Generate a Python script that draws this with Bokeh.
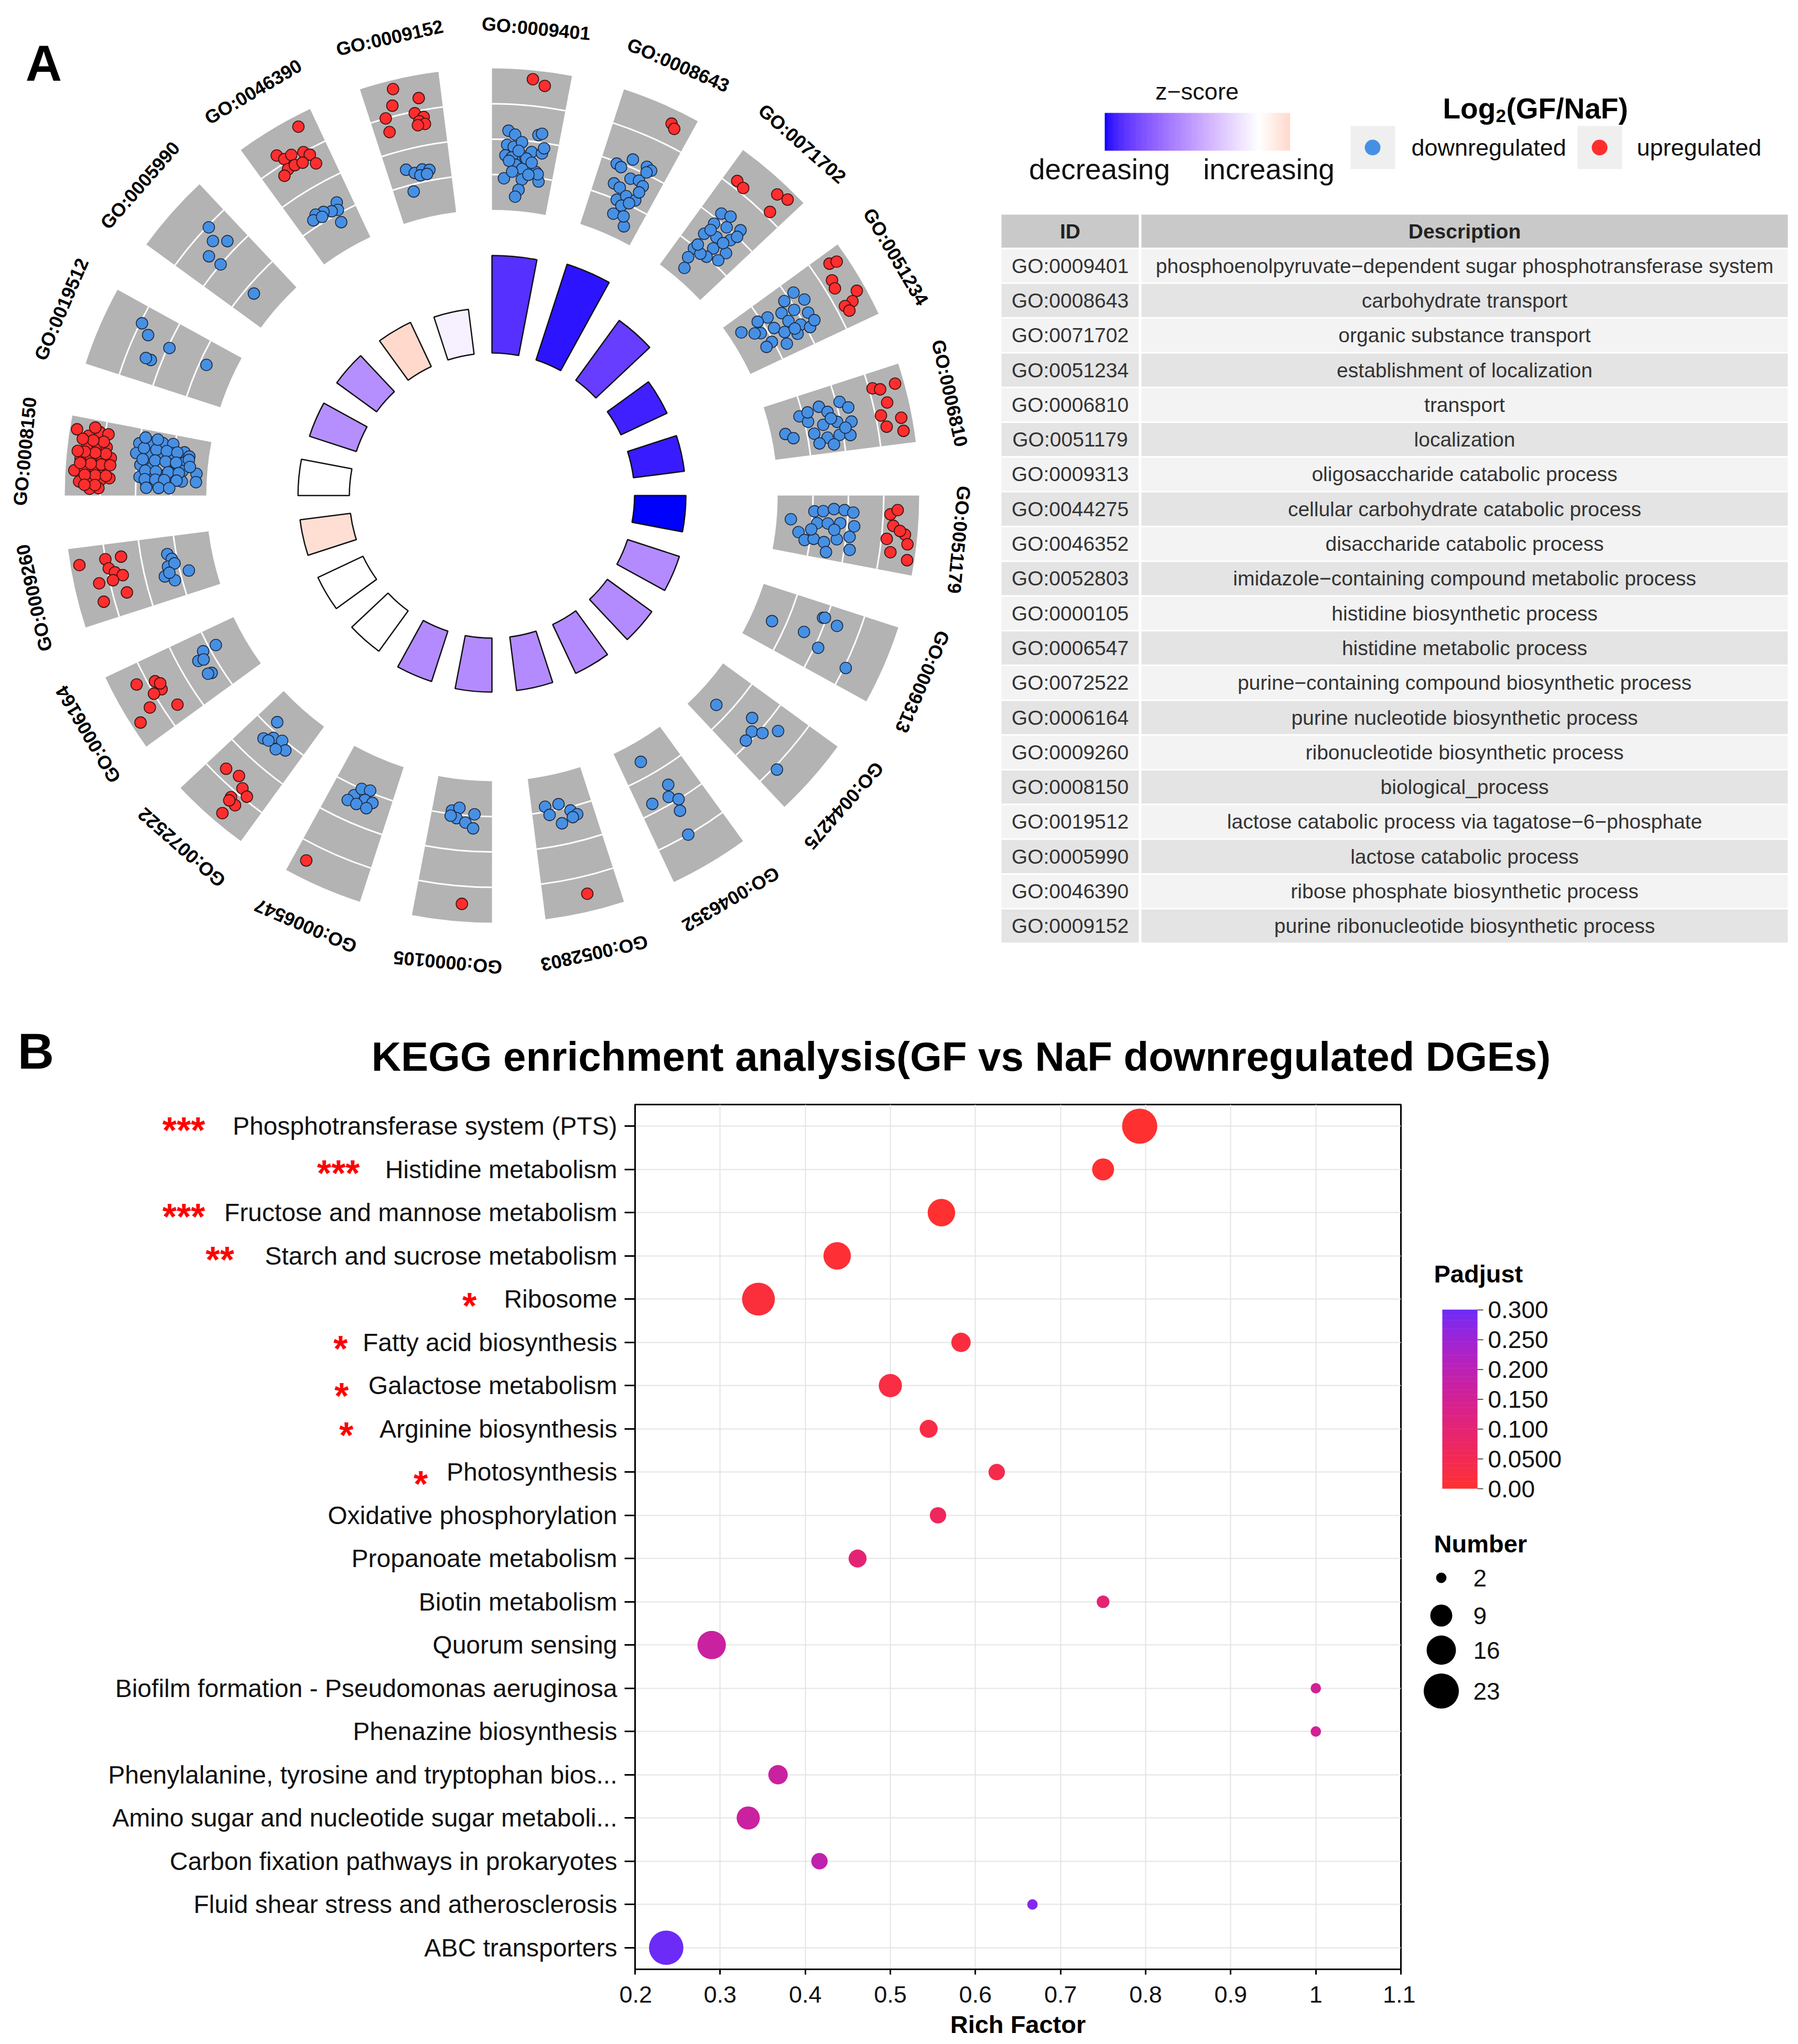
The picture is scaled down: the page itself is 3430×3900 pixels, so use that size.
import math
from bokeh.plotting import figure
from bokeh.models import Range1d, FixedTicker
from bokeh.layouts import column, row
from bokeh.embed import file_html
from bokeh.resources import INLINE
from bokeh.core.properties import value

FONT = "Liberation Sans"

# ------------------------------------------------------------------ Panel A data
GO_IDS = ["GO:0009401", "GO:0008643", "GO:0071702", "GO:0051234", "GO:0006810",
          "GO:0051179", "GO:0009313", "GO:0044275", "GO:0046352", "GO:0052803",
          "GO:0000105", "GO:0006547", "GO:0072522", "GO:0006164", "GO:0009260",
          "GO:0008150", "GO:0019512", "GO:0005990", "GO:0046390", "GO:0009152"]
GO_DESCRIPTIONS = [
    "phosphoenolpyruvate\u2212dependent sugar phosphotransferase system",
    "carbohydrate transport", "organic substance transport",
    "establishment of localization", "transport", "localization",
    "oligosaccharide catabolic process", "cellular carbohydrate catabolic process",
    "disaccharide catabolic process",
    "imidazole\u2212containing compound metabolic process",
    "histidine biosynthetic process", "histidine metabolic process",
    "purine\u2212containing compound biosynthetic process",
    "purine nucleotide biosynthetic process", "ribonucleotide biosynthetic process",
    "biological_process",
    "lactose catabolic process via tagatose\u22126\u2212phosphate",
    "lactose catabolic process", "ribose phosphate biosynthetic process",
    "purine ribonucleotide biosynthetic process"]
BAR_NEG_LOG10_PADJ = [9.3, 9.6, 7.05, 4.85, 4.9, 4.9, 5.2, 5.25, 5.15, 5.15,
                      5.15, 5.05, 4.75, 4.75, 4.85, 4.9, 4.7, 4.7, 4.65, 4.3]
GO_ZSCORE = [-5.3, -5.8, -5.0, -5.6, -5.7, -6.0, -3.0, -3.0, -3.0, -3.0,
             -3.0, -3.0, 0.0, 0.0, 1.0, 0.0, -2.9, -2.9, 1.2, -0.35]

# genes per term: (position across the sector 0..1, log2 fold change)
DN_0009401 = [(.24, -0.5), (.34, -0.7), (.68, -0.6), (.73, -0.5), (.23, -1.3), (.33, -1.4), (.45, -1.1),
              (.44, -1.9), (.21, -1.9), (.31, -2.0), (.52, -1.9), (.61, -1.6), (.77, -1.6), (.59, -2.4),
              (.38, -2.4), (.27, -2.2), (.49, -2.6), (.72, -2.7), (.78, -3.2), (.75, -2.8), (.20, -3.2),
              (.50, -3.2), (.46, -3.8), (.41, -4.2), (.54, -2.0), (.63, -2.2), (.41, -1.6), (.33, -2.8),
              (.60, -2.9), (.79, -1.3)]
UP_0009401 = [(.52, 2.5), (.68, 2.2)]
DN_0008643 = [(.24, -1.1), (.32, -1.2), (.44, -0.55), (.67, -0.6), (.75, -0.7), (.31, -2.2), (.42, -2.3),
              (.52, -1.6), (.65, -1.5), (.45, -3.0), (.57, -2.6), (.73, -2.6), (.74, -1.7), (.49, -3.8),
              (.56, -3.2), (.66, -2.9), (.75, -4.2), (.67, -3.7), (.70, -0.9), (.73, -2.1)]
UP_0008643 = [(.72, 2.2), (.78, 2.0)]
DN_0071702 = [(.29, -0.6), (.42, -0.4), (.30, -1.3), (.48, -1.0), (.66, -0.6), (.28, -2.1), (.46, -1.8),
              (.65, -1.4), (.54, -2.4), (.74, -2.1), (.73, -2.7), (.55, -3.0), (.30, -3.1), (.32, -3.7),
              (.39, -4.3), (.69, -1.0), (.32, -1.7), (.60, -1.8), (.44, -3.1), (.31, -2.8)]
UP_0071702 = [(.18, 1.4), (.30, 1.3), (.69, 2.3), (.83, 2.5), (.78, 1.3)]
DN_0051234 = [(.19, -0.6), (.36, -0.3), (.22, -1.3), (.55, -0.5), (.41, -1.1), (.35, -1.8), (.29, -2.6),
              (.26, -3.2), (.51, -1.7), (.65, -1.2), (.75, -0.8), (.49, -2.6), (.45, -3.4), (.63, -2.2),
              (.75, -1.6), (.67, -3.1), (.81, -2.4), (.70, -3.5), (.26, -4.3), (.40, -3.7), (.66, -1.6),
              (.69, -0.4)]
UP_0051234 = [(.14, 2.0), (.17, 2.4), (.34, 1.6), (.45, 1.5), (.62, 2.5), (.71, 2.0), (.72, 1.5), (.80, 1.6)]
DN_0006810 = [(.57, -4.2), (.67, -3.8), (.33, -3.2), (.45, -2.8), (.26, -2.0), (.37, -1.6), (.27, -0.8),
              (.38, -0.4), (.59, -0.4), (.55, -1.2), (.55, -2.0), (.66, -2.6), (.76, -1.9), (.75, -1.2),
              (.78, -0.6), (.88, -1.6), (.83, -2.4), (.30, -2.7), (.48, -1.5), (.66, -0.8)]
UP_0006810 = [(.21, 1.2), (.25, 1.6), (.23, 2.5), (.44, 1.8), (.59, 1.3), (.75, 1.5), (.67, 2.4), (.84, 2.4)]
DN_0051179 = [(.42, -4.2), (.63, -3.7), (.75, -3.3), (.26, -2.9), (.25, -2.4), (.21, -1.8), (.22, -1.2),
              (.25, -0.7), (.45, -2.7), (.44, -2.1), (.42, -1.4), (.45, -0.6), (.71, -2.8), (.74, -2.2),
              (.67, -1.5), (.61, -0.8), (.80, -0.7), (.89, -2.0), (.53, -1.7), (.56, -3.0)]
UP_0051179 = [(.25, 1.4), (.19, 1.8), (.40, 1.6), (.50, 2.3), (.58, 1.3), (.62, 2.5), (.75, 1.6), (.82, 2.6),
              (.46, 2.0)]
DN_0009313 = [(.57, -3.8), (.52, -1.9), (.21, -1.2), (.25, -0.3), (.65, -0.8), (.74, 1.1), (.20, -1.1)]
UP_0009313 = []
DN_0044275 = [(.65, -3.8), (.42, -1.8), (.58, -1.3), (.49, -0.8), (.32, -0.2), (.74, -1.2), (.73, 1.2)]
UP_0044275 = []
DN_0046352 = [(.63, -3.9), (.43, -2.0), (.79, -1.5), (.52, -1.4), (.41, -1.0), (.48, -0.4), (.55, 1.0)]
UP_0046352 = []
DN_0052803 = [(.77, -3.3), (.54, -3.3), (.72, -2.8), (.37, -2.8), (.28, -2.5), (.55, -2.2), (.36, -2.4)]
UP_0052803 = [(.42, 2.0)]
DN_0000105 = [(.67, -3.2), (.55, -3.4), (.58, -2.8), (.43, -2.6), (.29, -3.1), (.30, -2.3), (.68, -2.9)]
UP_0000105 = [(.39, 2.0)]
DN_0006547 = [(.62, -2.5), (.55, -3.0), (.41, -3.1), (.43, -2.5), (.30, -2.5), (.68, -2.1), (.53, -2.1),
              (.36, -2.1)]
UP_0006547 = [(.83, 2.0)]
DN_0072522 = [(.69, -3.5), (.67, -2.3), (.56, -2.7), (.42, -2.9), (.28, -2.6), (.41, -2.3), (.59, -2.4)]
UP_0072522 = [(.76, 0.4), (.56, 0.2), (.41, 0.6), (.29, 0.8), (.45, 1.4), (.34, 1.6), (.40, 2.4), (.44, 1.6)]
DN_0006164 = [(.71, -2.6), (.70, -3.4), (.61, -2.1), (.59, -2.4), (.34, -2.4), (.36, -2.2)]
UP_0006164 = [(.74, 1.6), (.66, 0.6), (.52, 0.5), (.52, 1.0), (.60, 0.4), (.39, 1.6), (.22, 0.2), (.29, 2.5)]
DN_0009260 = [(.72, -2.5), (.63, -2.7), (.52, -2.4), (.55, -2.8), (.38, -2.1), (.28, -2.6), (.38, -3.5),
              (.42, -2.4)]
UP_0009260 = [(.78, 2.5), (.80, 1.0), (.80, 0.1), (.67, 0.9), (.60, 0.6), (.54, 0.2), (.50, 1.6), (.29, 0.2),
              (.25, 1.6), (.50, 0.8)]
DN_0008150 = [(.78, -1.0), (.82, -1.6), (.84, -2.3), (.85, -2.9), (.63, -0.9), (.64, -1.6), (.66, -2.3),
              (.70, -2.9), (.74, -3.6), (.46, -1.2), (.45, -1.9), (.53, -3.2), (.57, -3.7), (.28, -1.2),
              (.30, -1.8), (.32, -2.4), (.36, -3.2), (.17, -1.6), (.19, -2.2), (.20, -2.9), (.68, -3.9),
              (.39, -4.4), (.24, -4.4), (.42, -3.6), (.24, -3.6), (.72, -1.3), (.72, -2.0), (.72, -2.6),
              (.72, -3.2), (.55, -1.3), (.55, -2.0), (.55, -2.6), (.55, -3.2), (.38, -1.5), (.38, -2.1),
              (.38, -2.8), (.38, -3.4), (.25, -1.5), (.25, -2.1), (.25, -2.6), (.25, -3.3), (.12, -1.6),
              (.12, -2.3), (.12, -2.9), (.88, -1.3), (.88, -2.0), (.62, -3.9), (.50, -4.0)]
UP_0008150 = [(.84, 2.6), (.78, 1.9), (.85, 1.3), (.84, 0.8), (.63, 1.9), (.65, 1.3), (.66, 0.8), (.48, 2.2),
              (.49, 1.6), (.50, 1.0), (.52, 0.5), (.32, 2.5), (.33, 1.9), (.35, 1.3), (.36, 0.8), (.18, 2.2),
              (.19, 1.6), (.21, 1.0), (.24, 0.5), (.10, 1.1), (.09, 1.6), (.27, 1.3), (.27, 1.9), (.42, 1.0),
              (.42, 1.6), (.42, 2.2), (.57, 0.8), (.57, 1.4), (.57, 2.0), (.73, 1.0), (.73, 1.6), (.73, 2.2),
              (.14, 1.3), (.14, 1.9), (.42, 0.5), (.27, 0.7), (.90, 1.6), (.57, 2.4)]
DN_0019512 = [(.76, 0.9), (.65, 0.3), (.61, -1.1), (.34, -0.4), (.61, -3.4), (.34, -0.1)]
UP_0019512 = []
DN_0005990 = [(.69, 0.9), (.59, 0.2), (.73, -0.4), (.39, -0.2), (.41, -1.0), (.40, -3.5)]
UP_0005990 = []
DN_0046390 = [(.75, -2.4), (.71, -2.8), (.61, -2.7), (.49, -2.5), (.36, -2.4), (.28, -2.6), (.43, -2.7),
              (.66, -3.5)]
UP_0046390 = [(.77, 2.4), (.34, 1.6), (.40, 1.2), (.51, 1.2), (.67, 1.0), (.73, 0.7), (.75, 0.1), (.37, 0.6),
              (.48, 0.6), (.28, 0.4), (.59, 0.5)]
DN_0009152 = [(.30, -2.1), (.42, -2.4), (.55, -2.3), (.66, -2.4), (.50, -2.6), (.33, -3.4), (.61, -2.6)]
UP_0009152 = [(.40, 2.5), (.70, 1.7), (.34, 1.6), (.21, 1.0), (.61, 0.9), (.72, 0.6), (.65, 0.4), (.72, 0.2),
              (.21, 0.2), (.62, 0.2)]

GENES_DOWN = [DN_0009401, DN_0008643, DN_0071702, DN_0051234, DN_0006810, DN_0051179, DN_0009313,
              DN_0044275, DN_0046352, DN_0052803, DN_0000105, DN_0006547, DN_0072522, DN_0006164,
              DN_0009260, DN_0008150, DN_0019512, DN_0005990, DN_0046390, DN_0009152]
GENES_UP = [UP_0009401, UP_0008643, UP_0071702, UP_0051234, UP_0006810, UP_0051179, UP_0009313,
            UP_0044275, UP_0046352, UP_0052803, UP_0000105, UP_0006547, UP_0072522, UP_0006164,
            UP_0009260, UP_0008150, UP_0019512, UP_0005990, UP_0046390, UP_0009152]

# ------------------------------------------------------------------ Panel B data
KEGG_TERMS = ["Phosphotransferase system (PTS)", "Histidine metabolism",
              "Fructose and mannose metabolism", "Starch and sucrose metabolism", "Ribosome",
              "Fatty acid biosynthesis", "Galactose metabolism", "Arginine biosynthesis",
              "Photosynthesis", "Oxidative phosphorylation", "Propanoate metabolism",
              "Biotin metabolism", "Quorum sensing", "Biofilm formation - Pseudomonas aeruginosa",
              "Phenazine biosynthesis", "Phenylalanine, tyrosine and tryptophan bios...",
              "Amino sugar and nucleotide sugar metaboli...", "Carbon fixation pathways in prokaryotes",
              "Fluid shear stress and atherosclerosis", "ABC transporters"]
RICH_FACTOR = [0.793, 0.75, 0.56, 0.4375, 0.345, 0.583, 0.5, 0.545, 0.625, 0.556,
               0.4615, 0.75, 0.29, 1.0, 1.0, 0.368, 0.333, 0.4167, 0.667, 0.2366]
GENE_NUMBER = [23, 9, 14, 14, 20, 7, 10, 6, 5, 5, 6, 3, 15, 2, 2, 7, 10, 5, 2, 22]
PADJUST = [0.0002, 0.0008, 0.0009, 0.006, 0.015, 0.022, 0.025, 0.03, 0.04, 0.065,
           0.10, 0.10, 0.17, 0.15, 0.15, 0.17, 0.17, 0.19, 0.28, 0.30]
SIGNIF = ["***", "***", "***", "**", "*", "*", "*", "*", "*"]
PADJ_TICKS = [0.0, 0.05, 0.10, 0.15, 0.20, 0.25, 0.30]
PADJ_TICK_LABELS = ["0.00", "0.0500", "0.100", "0.150", "0.200", "0.250", "0.300"]
NUMBER_KEYS = [2, 9, 16, 23]
RICH_TICKS = [0.2, 0.3, 0.4, 0.5, 0.6, 0.7, 0.8, 0.9, 1.0, 1.1]
PLOT_TITLE = "KEGG enrichment analysis(GF vs NaF downregulated DGEs)"


# ------------------------------------------------------------------ colour helpers (Lab interpolation)
def _hex_rgb(h):
    h = h.lstrip("#")
    return [int(h[i:i + 2], 16) / 255 for i in (0, 2, 4)]


def _to_lab(h):
    def lin(c):
        return c / 12.92 if c <= 0.04045 else ((c + 0.055) / 1.055) ** 2.4
    r, g, b = [lin(c) for c in _hex_rgb(h)]
    X = (0.4124 * r + 0.3576 * g + 0.1805 * b) / 0.95047
    Y = (0.2126 * r + 0.7152 * g + 0.0722 * b)
    Z = (0.0193 * r + 0.1192 * g + 0.9505 * b) / 1.08883

    def f(t):
        return t ** (1 / 3) if t > 0.008856 else 7.787 * t + 16 / 116
    fx, fy, fz = f(X), f(Y), f(Z)
    return (116 * fy - 16, 500 * (fx - fy), 200 * (fy - fz))


def _from_lab(L, a, b):
    fy = (L + 16) / 116
    fx = fy + a / 500
    fz = fy - b / 200

    def finv(t):
        return t ** 3 if t ** 3 > 0.008856 else (t - 16 / 116) / 7.787
    X, Y, Z = 0.95047 * finv(fx), finv(fy), 1.08883 * finv(fz)
    r = 3.2406 * X - 1.5372 * Y - 0.4986 * Z
    g = -0.9689 * X + 1.8758 * Y + 0.0415 * Z
    bb = 0.0557 * X - 0.2040 * Y + 1.0570 * Z

    def gam(c):
        c = max(0.0, min(1.0, c))
        return 12.92 * c if c <= 0.0031308 else 1.055 * c ** (1 / 2.4) - 0.055
    return "#%02x%02x%02x" % tuple(int(round(gam(c) * 255)) for c in (r, g, bb))


def lab_mix(c1, c2, t):
    A, B = _to_lab(c1), _to_lab(c2)
    return _from_lab(*[A[i] + (B[i] - A[i]) * t for i in range(3)])


Z_ABS = max(abs(z) for z in GO_ZSCORE)


def z_color(z):
    p = 0.5 + z / (2 * Z_ABS)
    if p <= 0.5:
        return lab_mix("#0000FF", "#FFFFFF", p / 0.5)
    return lab_mix("#FFFFFF", "#FF0000", (p - 0.5) / 0.5)


PADJ_LOW, PADJ_HIGH, PADJ_MAX = "#FF3030", "#6C2BF6", 0.30


def padj_color(v):
    return lab_mix(PADJ_LOW, PADJ_HIGH, max(0.0, min(1.0, v / PADJ_MAX)))


def pixel_figure(**kw):
    p = figure(output_backend="svg", toolbar_location=None, x_axis_type=None, y_axis_type=None, **kw)
    p.outline_line_color = None
    p.background_fill_color = "white"
    p.border_fill_color = "white"
    return p


# ------------------------------------------------------------------ page geometry (page pixels, y = -page_y)
W = 3422
HA = 1900          # panel A strip
HT = 180           # panel B title strip
ROW_TOP = HA + HT
PAGE_FRAME_TOP = 2107
PAGE_FRAME_LEFT = 1211
FB_TOP = PAGE_FRAME_TOP - ROW_TOP
FB_H, FB_BOTTOM = 1650, 140
LEFT_W = 1181
FB_LEFT = PAGE_FRAME_LEFT - LEFT_W
FB_W, FB_RIGHT = 1461, 28
LX0 = LEFT_W + FB_LEFT + FB_W + FB_RIGHT
LW = W - LX0

# ------------------------------------------------------------------ Panel A figure
pa = pixel_figure(width=W, height=HA, x_range=Range1d(0, W), y_range=Range1d(-HA, 0), min_border=0)

CX, CY = 938.0, -945.0
STEP, SPAN = 18.0, 10.8
R_BAR_IN, BAR_SCALE = 272.0, 20.0
R_TILE_IN, R_TILE_OUT = 545.0, 815.0
R_LABEL = 895.0
LFC_LO, LFC_HI = -5.0, 3.0
DOT_R = 11
N = len(GO_IDS)


def polar(theta_deg, r):
    t = math.radians(theta_deg)
    return CX + r * math.sin(t), CY + r * math.cos(t)


th1 = [STEP * i for i in range(N)]
th2 = [t + SPAN for t in th1]
wedge_start = [math.radians(90 - b) for b in th2]
wedge_end = [math.radians(90 - a) for a in th1]

pa.annular_wedge(x=CX, y=CY, inner_radius=R_TILE_IN, outer_radius=R_TILE_OUT,
                 start_angle=wedge_start, end_angle=wedge_end, direction="anticlock",
                 fill_color="#B3B3B3", line_color=None)
arc_r, arc_s, arc_e = [], [], []
for i in range(N):
    for k in (1, 2, 3):
        arc_r.append(R_TILE_IN + (R_TILE_OUT - R_TILE_IN) * k / 4)
        arc_s.append(wedge_start[i])
        arc_e.append(wedge_end[i])
pa.arc(x=CX, y=CY, radius=arc_r, start_angle=arc_s, end_angle=arc_e, direction="anticlock",
       line_color="white", line_width=3)

pa.annular_wedge(x=CX, y=CY, inner_radius=R_BAR_IN,
                 outer_radius=[R_BAR_IN + BAR_SCALE * v for v in BAR_NEG_LOG10_PADJ],
                 start_angle=wedge_start, end_angle=wedge_end, direction="anticlock",
                 fill_color=[z_color(z) for z in GO_ZSCORE], line_color="#111111", line_width=2.5)


def gene_xy(groups):
    xs, ys = [], []
    for i, genes in enumerate(groups):
        for u, lfc in genes:
            th = th1[i] + u * SPAN
            r = R_TILE_IN + (lfc - LFC_LO) / (LFC_HI - LFC_LO) * (R_TILE_OUT - R_TILE_IN)
            x, y = polar(th, r)
            xs.append(x)
            ys.append(y)
    return xs, ys


dxs, dys = gene_xy(GENES_DOWN)
pa.circle(x=dxs, y=dys, radius=DOT_R, fill_color="#4690E4", line_color="#1E2A44", line_width=1.6)
uxs, uys = gene_xy(GENES_UP)
pa.circle(x=uxs, y=uys, radius=DOT_R, fill_color="#FF2E2E", line_color="#3A1010", line_width=1.6)

lab_x, lab_y, lab_a = [], [], []
for i in range(N):
    thc = th1[i] + SPAN / 2
    x, y = polar(thc, R_LABEL)
    lab_x.append(x)
    lab_y.append(y)
    lab_a.append(-math.radians(thc))
pa.text(x=lab_x, y=lab_y, text=GO_IDS, angle=lab_a, text_align="center", text_baseline="middle",
        text_font=value(FONT), text_font_style="bold", text_font_size="36px", text_color="black")

pa.text(x=[83], y=[-120], text=["A"], text_align="center", text_baseline="middle",
        text_font=value(FONT), text_font_style="bold", text_font_size="96px", text_color="black")

# z-score legend
pa.text(x=[2283], y=[-174], text=["z\u2212score"], text_align="center", text_baseline="middle",
        text_font=value(FONT), text_font_size="45px", text_color="#111111")
zmin, zmax = min(GO_ZSCORE), max(GO_ZSCORE)
M = 160
gx0, gx1 = 2107.0, 2460.0
gl, gr, gc = [], [], []
for k in range(M):
    gl.append(gx0 + (gx1 - gx0) * k / M)
    gr.append(gx0 + (gx1 - gx0) * (k + 1) / M + 0.6)
    gc.append(z_color(zmin + (zmax - zmin) * (k + 0.5) / M))
pa.quad(left=gl, right=gr, top=-215, bottom=-287, fill_color=gc, line_color=None)
pa.text(x=[2097, 2420], y=[-322, -322], text=["decreasing", "increasing"], text_align="center",
        text_baseline="middle", text_font=value(FONT), text_font_size="55px", text_color="#111111")

# Log2(GF/NaF) legend
pa.text(x=[2752], y=[-206], text=["Log"], text_align="left", text_baseline="alphabetic",
        text_font=value(FONT), text_font_style="bold", text_font_size="55px", text_color="black")
pa.text(x=[2853], y=[-220], text=["2"], text_align="left", text_baseline="alphabetic",
        text_font=value(FONT), text_font_style="bold", text_font_size="35px", text_color="black")
pa.text(x=[2873], y=[-206], text=["(GF/NaF)"], text_align="left", text_baseline="alphabetic",
        text_font=value(FONT), text_font_style="bold", text_font_size="55px", text_color="black")
pa.quad(left=[2576, 3009], right=[2661, 3094], top=-240, bottom=-322, fill_color="#EFEFEF",
        line_color=None)
pa.circle(x=[2618], y=[-281], radius=15, fill_color="#4690E4", line_color=None)
pa.circle(x=[3051], y=[-281], radius=15, fill_color="#FF2E2E", line_color=None)
pa.text(x=[2692, 3122], y=[-281, -281], text=["downregulated", "upregulated"], text_align="left",
        text_baseline="middle", text_font=value(FONT), text_font_size="45px", text_color="#111111")

# table
TX0, TX1, TX2, TX3 = 1910.0, 2172.0, 2177.0, 3410.0
HEAD_T, HEAD_B = 409.0, 472.0
ROW_T0, ROW_H, ROW_FILL = 475.0, 66.3, 63.3
pa.quad(left=[TX0, TX2], right=[TX1, TX3], top=-HEAD_T, bottom=-HEAD_B, fill_color="#C9C9C9",
        line_color=None)
pa.text(x=[(TX0 + TX1) / 2, (TX2 + TX3) / 2], y=[-(HEAD_T + HEAD_B) / 2] * 2, text=["ID", "Description"],
        text_align="center", text_baseline="middle", text_font=value(FONT), text_font_style="bold",
        text_font_size="39px", text_color="#222222")
ql, qr, qt, qb, qc, ry = [], [], [], [], [], []
for i in range(N):
    top = ROW_T0 + ROW_H * i
    col = "#F3F3F3" if i % 2 == 0 else "#E4E4E4"
    for a, b in ((TX0, TX1), (TX2, TX3)):
        ql.append(a)
        qr.append(b)
        qt.append(-top)
        qb.append(-(top + ROW_FILL))
        qc.append(col)
    ry.append(-(top + ROW_FILL / 2))
pa.quad(left=ql, right=qr, top=qt, bottom=qb, fill_color=qc, line_color=None)
pa.text(x=[(TX0 + TX1) / 2] * N, y=ry, text=GO_IDS, text_align="center", text_baseline="middle",
        text_font=value(FONT), text_font_size="39px", text_color="#333333")
pa.text(x=[(TX2 + TX3) / 2] * N, y=ry, text=GO_DESCRIPTIONS, text_align="center", text_baseline="middle",
        text_font=value(FONT), text_font_size="39px", text_color="#333333")

# ------------------------------------------------------------------ Panel B title strip
pt = pixel_figure(width=W, height=HT, x_range=Range1d(0, W), y_range=Range1d(-(HA + HT), -HA), min_border=0)
pt.text(x=[68], y=[-2005], text=["B"], text_align="center", text_baseline="middle",
        text_font=value(FONT), text_font_style="bold", text_font_size="96px", text_color="black")
pt.text(x=[1833], y=[-2015], text=[PLOT_TITLE], text_align="center", text_baseline="middle",
        text_font=value(FONT), text_font_style="bold", text_font_size="78px", text_color="black")

# ------------------------------------------------------------------ Panel B plot
NT = len(KEGG_TERMS)
PX_PER_Y = FB_H / NT
ypos = list(range(1, NT + 1))

pb = figure(frame_width=FB_W, frame_height=FB_H, x_range=Range1d(0.2, 1.1),
            y_range=Range1d(NT + 0.5, 0.5), output_backend="svg", toolbar_location=None,
            min_border_left=FB_LEFT, min_border_right=FB_RIGHT, min_border_top=FB_TOP,
            min_border_bottom=FB_BOTTOM)
pb.background_fill_color = "white"
pb.border_fill_color = "white"
pb.outline_line_color = "black"
pb.outline_line_width = 3
pb.yaxis.ticker = FixedTicker(ticks=ypos)
pb.yaxis.major_label_overrides = {i: "" for i in ypos}
pb.yaxis.major_label_standoff = 0
pb.xaxis.ticker = FixedTicker(ticks=RICH_TICKS)
pb.xaxis.major_label_overrides = {1: "1"}
pb.axis.major_label_text_font = FONT
pb.axis.major_label_text_color = "#111111"
pb.xaxis.major_label_text_font_size = "45px"
pb.axis.axis_line_color = "black"
pb.axis.axis_line_width = 3
pb.axis.major_tick_line_color = "black"
pb.axis.major_tick_line_width = 3
pb.axis.major_tick_in = 0
pb.yaxis.major_tick_out = 20
pb.xaxis.major_tick_out = 10
pb.axis.minor_tick_line_color = None
pb.xaxis.major_label_standoff = 22
pb.xaxis.axis_label = "Rich Factor"
pb.xaxis.axis_label_text_font = FONT
pb.xaxis.axis_label_text_font_style = "bold"
pb.xaxis.axis_label_text_font_size = "47px"
pb.xaxis.axis_label_text_color = "black"
pb.xaxis.axis_label_standoff = 12
pb.xgrid.grid_line_color = "#E4E4E4"
pb.ygrid.grid_line_color = "#E4E4E4"
pb.xgrid.grid_line_width = 2
pb.ygrid.grid_line_width = 2

pb.scatter(x=RICH_FACTOR, y=ypos, size=[14.0 * math.sqrt(n) for n in GENE_NUMBER],
           fill_color=[padj_color(v) for v in PADJUST], line_color=None)

# ------------------------------------------------------------------ Panel B category labels + significance stars
pleft = pixel_figure(frame_width=LEFT_W, frame_height=FB_H, min_border_left=0, min_border_right=0,
                     min_border_top=FB_TOP, min_border_bottom=FB_BOTTOM,
                     x_range=Range1d(0, LEFT_W), y_range=Range1d(-(PAGE_FRAME_TOP + FB_H), -PAGE_FRAME_TOP))
cat_y = [-(PAGE_FRAME_TOP + PX_PER_Y * (i - 0.5)) for i in ypos]
pleft.text(x=[1177] * NT, y=cat_y, text=KEGG_TERMS, text_align="right", text_baseline="middle",
           text_font=value(FONT), text_font_size="48px", text_color="#111111")
STAR_X = [350, 645, 350, 419, 895, 649, 651, 660, 802]
STAR_NUDGE = [0, 0, 0, 0, 5, 5, 12, 5, 15]
pleft.text(x=STAR_X, y=[cat_y[i] - 8 - STAR_NUDGE[i] for i in range(len(SIGNIF))], text=SIGNIF,
           text_align="center", text_baseline="middle", text_font=value(FONT), text_font_style="bold",
           text_font_size="70px", text_color="#FF0000")

# ------------------------------------------------------------------ Panel B legends
pl = pixel_figure(frame_width=LW, frame_height=FB_H, min_border_left=0, min_border_right=0,
                  min_border_top=FB_TOP, min_border_bottom=FB_BOTTOM,
                  x_range=Range1d(LX0, LX0 + LW), y_range=Range1d(-(PAGE_FRAME_TOP + FB_H), -PAGE_FRAME_TOP))
CB_X0, CB_X1 = 2751.0, 2818.0
CB_Y0, PX_PER_P = 2840.0, 1137.0
pl.text(x=[2735], y=[-2430], text=["Padjust"], text_align="left", text_baseline="middle",
        text_font=value(FONT), text_font_style="bold", text_font_size="47px", text_color="black")
MB = 150
cb_t, cb_b, cb_c = [], [], []
for k in range(MB):
    v0 = PADJ_MAX * k / MB
    v1 = PADJ_MAX * (k + 1) / MB
    cb_b.append(-(CB_Y0 - v0 * PX_PER_P))
    cb_t.append(-(CB_Y0 - v1 * PX_PER_P) + 0.6)
    cb_c.append(padj_color((v0 + v1) / 2))
pl.quad(left=CB_X0, right=CB_X1, top=cb_t, bottom=cb_b, fill_color=cb_c, line_color=None)
tick_y = [-(CB_Y0 - v * PX_PER_P) for v in PADJ_TICKS]
pl.segment(x0=CB_X1, x1=CB_X1 + 11, y0=tick_y, y1=tick_y, line_color="#555555", line_width=2)
pl.text(x=[2838] * len(PADJ_TICKS), y=tick_y, text=PADJ_TICK_LABELS, text_align="left",
        text_baseline="middle", text_font=value(FONT), text_font_size="46px", text_color="#111111")

pl.text(x=[2735], y=[-2945], text=["Number"], text_align="left", text_baseline="middle",
        text_font=value(FONT), text_font_style="bold", text_font_size="47px", text_color="black")
KEY_Y = [3010, 3082, 3148, 3226]
pl.scatter(x=[2749] * len(NUMBER_KEYS), y=[-v for v in KEY_Y],
           size=[14.0 * math.sqrt(n) for n in NUMBER_KEYS], fill_color="black", line_color=None)
pl.text(x=[2810] * len(NUMBER_KEYS), y=[-v for v in KEY_Y], text=[str(n) for n in NUMBER_KEYS],
        text_align="left", text_baseline="middle", text_font=value(FONT), text_font_size="46px",
        text_color="#111111")

layout = column(pa, pt, row(pleft, pb, pl))
open("out.html", "w").write(file_html(layout, INLINE))
